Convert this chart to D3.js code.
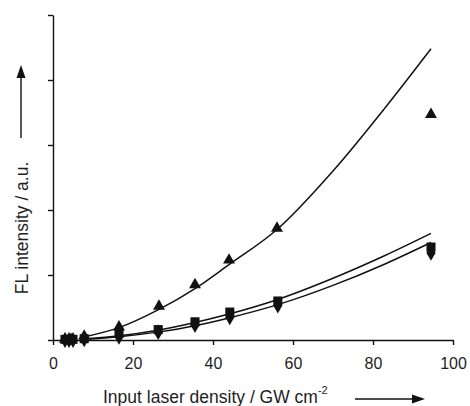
<!DOCTYPE html>
<html>
<head>
<meta charset="utf-8">
<script src="https://cdn.jsdelivr.net/npm/d3@7"></script>
<style>
  body{ margin: 0; background: #fff; }
  svg{ display: block; }
</style>
</head>
<body>
<div id="fl_chart"><div class="plot"></div></div>
<script>

// Measured points, x in GW cm^-2, y in arbitrary units (one y tick = 1 unit).
var triangle_x = [ 3, 4.5, 7.8, 16.5, 26.5, 35.5, 44, 56, 94.5 ];
var triangle_y = [ 0.01, 0.01, 0.06, 0.2, 0.52, 0.85, 1.23, 1.72, 3.47 ];

var square_x = [ 3, 4, 5, 7.8, 16.5, 26.3, 35.5, 44.2, 56.2, 94.5 ];
var square_y = [ 0.01, 0.01, 0.01, 0.02, 0.1, 0.16, 0.28, 0.43, 0.6, 1.43 ];

var diamond_x = [ 3, 4, 5, 7.8, 16.5, 26.3, 35.5, 44.2, 56.2, 94.5 ];
var diamond_y = [ 0.0, 0.0, 0.0, 0.01, 0.05, 0.12, 0.23, 0.35, 0.53, 1.34 ];

// Fit curves.
var fit_x = [ 8, 16.5, 26.5, 35.5, 44, 56, 70, 83, 94.5 ];
var fit_triangle_y = [ 0.05, 0.19, 0.47, 0.79, 1.16, 1.7, 2.6, 3.57, 4.48 ];
var fit_square_y = [ 0.02, 0.065, 0.155, 0.27, 0.4, 0.62, 0.95, 1.3, 1.64 ];
var fit_diamond_y = [ 0.01, 0.05, 0.125, 0.22, 0.34, 0.54, 0.84, 1.17, 1.5 ];

var x_ticks = [ 0, 20, 40, 60, 80, 100 ];
var y_ticks = [ 0, 1, 2, 3, 4, 5 ];

var x_title = 'Input laser density / GW cm';
var x_title_sup = '-2';
var y_title = 'FL intensity / a.u.';

var settings = {
  figure_width: 470,
  figure_height: 406,
  plot_margin: { top: 15, right: 17, bottom: 66, left: 53 },
  font: '"Liberation Sans", Arial, sans-serif',
  tick_font_size: 16,
  title_font_size: 17.5,
  text_color: '#1e1e1e'
};
settings.plot_width = settings.figure_width - settings.plot_margin.left - settings.plot_margin.right;
settings.plot_height = settings.figure_height - settings.plot_margin.top - settings.plot_margin.bottom;

function zip( xs, ys ){
  return xs.map( function( x, i ){ return { x: x, y: ys[i] } } );
}

var svg = d3.select( 'div#fl_chart .plot' )
  .append( 'svg' )
    .attr( 'width', settings.figure_width )
    .attr( 'height', settings.figure_height )
    .style( 'font-family', settings.font );

var g = svg.append( 'g' )
  .attr( 'transform', 'translate(' + settings.plot_margin.left + ',' + settings.plot_margin.top + ')' );

var x_scale = d3.scaleLinear()
  .domain( [0, 100] )
  .range( [0, settings.plot_width] );

var y_scale = d3.scaleLinear()
  .domain( [0, 5] )
  .range( [settings.plot_height, 0] );

// X axis.
var x_axis = g.append( 'g' )
  .attr( 'transform', 'translate(0,' + settings.plot_height + ')' )
  .call( d3.axisBottom( x_scale ).tickValues( x_ticks ).tickSize( 5 ).tickSizeOuter( 0 ).tickPadding( 13 ) );
x_axis.selectAll( 'text' )
  .attr( 'font-size', settings.tick_font_size )
  .attr( 'font-family', settings.font )
  .attr( 'fill', settings.text_color );

// Y axis, ticks without labels.
var y_axis = g.append( 'g' )
  .call( d3.axisLeft( y_scale ).tickValues( y_ticks ).tickSize( 5 ).tickSizeOuter( 0 ).tickFormat( '' ) );

svg.selectAll( '.domain, .tick line' )
  .attr( 'stroke', '#111' )
  .attr( 'stroke-width', 1.4 );

// Fit curves.
var line = d3.line()
  .x( function( d ){ return x_scale( d.x ) } )
  .y( function( d ){ return y_scale( d.y ) } )
  .curve( d3.curveMonotoneX );

[ fit_triangle_y, fit_square_y, fit_diamond_y ].forEach( function( ys ){
  g.append( 'path' )
    .datum( zip( fit_x, ys ) )
    .attr( 'fill', 'none' )
    .attr( 'stroke', '#111' )
    .attr( 'stroke-width', 1.5 )
    .attr( 'd', line );
} );

// Markers.
function draw_points( xs, ys, type, size ){
  g.append( 'g' )
    .selectAll( 'path' )
    .data( zip( xs, ys ) )
    .enter()
    .append( 'path' )
      .attr( 'transform', function( d ){ return 'translate(' + x_scale( d.x ) + ',' + y_scale( d.y ) + ')' } )
      .attr( 'd', d3.symbol().type( type ).size( size ) )
      .attr( 'fill', '#111' );
}
draw_points( diamond_x, diamond_y, d3.symbolDiamond, 72 );
draw_points( square_x, square_y, d3.symbolSquare, 82 );
draw_points( triangle_x, triangle_y, d3.symbolTriangle, 62 );

// X axis title with superscript and arrow.
var x_title_y = settings.figure_height - 3;
var x_label = svg.append( 'text' )
  .attr( 'x', 103 )
  .attr( 'y', x_title_y )
  .attr( 'font-size', settings.title_font_size )
  .attr( 'fill', settings.text_color )
  .text( x_title );
x_label.append( 'tspan' )
  .attr( 'font-size', 11 )
  .attr( 'dy', -9 )
  .text( x_title_sup );

function arrow( x1, y1, x2, y2 ){
  var angle = Math.atan2( y2 - y1, x2 - x1 );
  var head_len = 13, head_w = 4.5;
  var bx = x2 - head_len * Math.cos( angle ), by = y2 - head_len * Math.sin( angle );
  svg.append( 'line' )
    .attr( 'x1', x1 ).attr( 'y1', y1 )
    .attr( 'x2', bx ).attr( 'y2', by )
    .attr( 'stroke', '#111' )
    .attr( 'stroke-width', 1.4 );
  var px = -Math.sin( angle ) * head_w, py = Math.cos( angle ) * head_w;
  svg.append( 'path' )
    .attr( 'd', 'M' + x2 + ',' + y2 + 'L' + ( bx + px ) + ',' + ( by + py ) + 'L' + ( bx - px ) + ',' + ( by - py ) + 'Z' )
    .attr( 'fill', '#111' );
}
arrow( 355, x_title_y - 4, 425, x_title_y - 4 );

// Y axis title, rotated, with arrow.
svg.append( 'g' )
  .attr( 'transform', 'translate(28, 228)' )
  .append( 'text' )
    .attr( 'text-anchor', 'middle' )
    .attr( 'transform', 'rotate(-90)' )
    .attr( 'font-size', settings.title_font_size )
    .attr( 'fill', settings.text_color )
    .text( y_title );
arrow( 21, 138, 21, 65 );

</script>
</body>
</html>
